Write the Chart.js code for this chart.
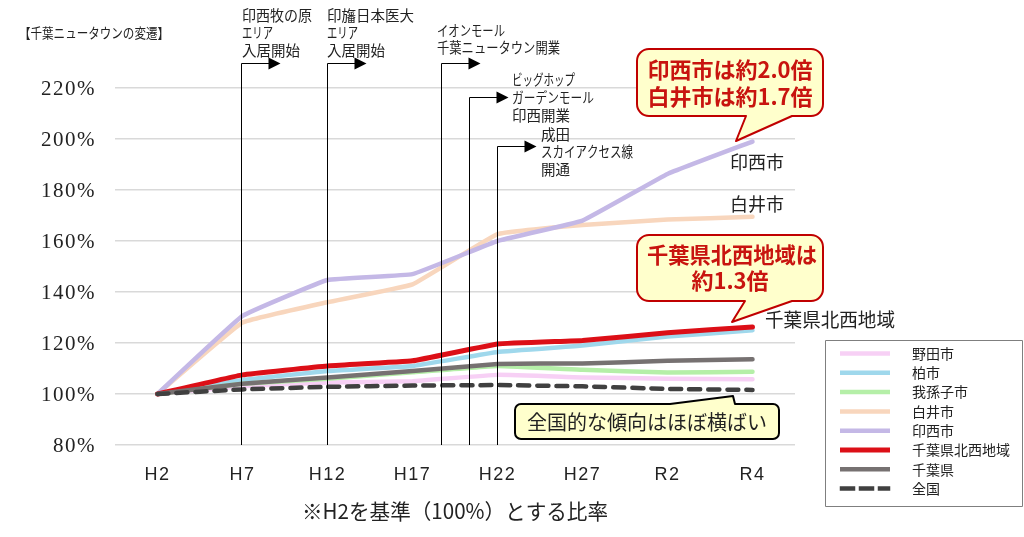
<!DOCTYPE html>
<html>
<head>
<meta charset="utf-8">
<style>
  body { margin: 0; background: #fff; }
  canvas { display: block; }
</style>
<script src="https://cdn.jsdelivr.net/npm/chart.js@4"></script>
</head>
<body>
<canvas id="chart" width="1024" height="537"></canvas>
<script>
// Data
const categories = ['H2', 'H7', 'H12', 'H17', 'H22', 'H27', 'R2', 'R4'];
const noda = [100, 103, 104.5, 105, 107.5, 106.5, 106, 105.8];
const kashiwa = [100, 105.5, 109, 111, 116.5, 119, 122.5, 125];
const abiko = [100, 104, 106, 108.5, 111, 109.5, 108.4, 108.7];
const shiroi = [100, 128, 136, 143, 162.7, 166.3, 168.4, 169.5];
const inzai = [100, 130.6, 144.7, 147, 160, 168, 186.3, 199];
const hokusei = [100, 107.5, 111, 113, 119.6, 121, 124, 126.3];
const chibaPref = [100, 104, 106.5, 109, 111.8, 112, 113, 113.6];
const national = [100, 101.8, 102.8, 103.3, 103.5, 103, 102, 101.6];
const yTicks = [80, 100, 120, 140, 160, 180, 200, 220];

// Events: position along the category axis, and height of the arrow on the value axis
const eventPos = [0.986, 1.998, 3.34, 3.67, 4];
const eventTop = [229.8, 229.8, 229.8, 216.3, 197.3];

const SANS = '"Noto Sans CJK JP", sans-serif';
const RED = '#c8140f';

function line(label, data, color, width, dash, i) {
  return {
    label: label, data: data, borderColor: color, backgroundColor: color,
    borderWidth: width, borderDash: dash || [], tension: 0.08,
    pointRadius: 0, borderCapStyle: 'round', order: 8 - i
  };
}

function text(ctx, str, x, y, font, color, maxWidth, align) {
  ctx.font = font;
  ctx.fillStyle = color;
  ctx.textAlign = align || 'left';
  ctx.textBaseline = 'middle';
  if (maxWidth) ctx.fillText(str, x, y, maxWidth);
  else ctx.fillText(str, x, y);
}

function callout(ctx, x0, y0, x1, y1, r, tail, fill, stroke) {
  ctx.beginPath();
  ctx.moveTo(x0 + r, y0);
  if (tail.top) {
    ctx.lineTo(tail.a, y0);
    ctx.lineTo(tail.tipX, tail.tipY);
    ctx.lineTo(tail.b, y0);
  }
  ctx.arcTo(x1, y0, x1, y1, r);
  ctx.arcTo(x1, y1, x0, y1, r);
  if (!tail.top) {
    ctx.lineTo(tail.b, y1);
    ctx.lineTo(tail.tipX, tail.tipY);
    ctx.lineTo(tail.a, y1);
  }
  ctx.arcTo(x0, y1, x0, y0, r);
  ctx.arcTo(x0, y0, x1, y0, r);
  ctx.closePath();
  ctx.fillStyle = fill;
  ctx.fill();
  ctx.lineWidth = 2;
  ctx.strokeStyle = stroke;
  ctx.lineJoin = 'round';
  ctx.stroke();
}

// Tick labels in the original are widely spaced
const tickSpacing = {
  id: 'tickSpacing',
  beforeDraw(chart) { chart.ctx.letterSpacing = '1.5px'; },
  beforeDatasetsDraw(chart) { chart.ctx.letterSpacing = '0px'; }
};

// Vertical event lines with arrows, placed through the scales
const eventLines = {
  id: 'eventLines',
  afterDatasetsDraw(chart) {
    const ctx = chart.ctx, x = chart.scales.x, y = chart.scales.y;
    const step = x.getPixelForValue(1) - x.getPixelForValue(0);
    ctx.save();
    ctx.strokeStyle = '#000';
    ctx.fillStyle = '#000';
    ctx.lineWidth = 1;
    eventPos.forEach(function (p, i) {
      const px = Math.floor(x.getPixelForValue(0) + p * step) + 0.5;
      const py = Math.round(y.getPixelForValue(eventTop[i])) + 0.5;
      ctx.beginPath();
      ctx.moveTo(px, y.getPixelForValue(80));
      ctx.lineTo(px, py);
      ctx.lineTo(px + 28, py);
      ctx.stroke();
      ctx.beginPath();
      ctx.moveTo(px + 27, py - 6);
      ctx.lineTo(px + 39, py);
      ctx.lineTo(px + 27, py + 6);
      ctx.closePath();
      ctx.fill();
    });
    ctx.restore();
  }
};

// Texts, callouts and legend on top of everything
const overlay = {
  id: 'overlay',
  afterDraw(chart) {
    const ctx = chart.ctx;
    ctx.save();
    const f14 = '14.5px ' + SANS, f18 = '18px ' + SANS, bold = 'bold 22px ' + SANS, black = '#222';

    text(ctx, '【千葉ニュータウンの変遷】', 19, 33, '14px ' + SANS, black, 150);

    text(ctx, '印西牧の原', 242, 15, f14, black, 70);
    text(ctx, 'エリア', 242, 32, f14, black, 31);
    text(ctx, '入居開始', 242, 50, f14, black, 58);
    text(ctx, '印旛日本医大', 327, 15, f14, black, 87);
    text(ctx, 'エリア', 327, 32, f14, black, 31);
    text(ctx, '入居開始', 327, 50, f14, black, 58);
    text(ctx, 'イオンモール', 437, 30, f14, black, 68);
    text(ctx, '千葉ニュータウン開業', 437, 47, f14, black, 123);
    text(ctx, 'ビッグホップ', 512, 79, f14, black, 63);
    text(ctx, 'ガーデンモール', 512, 97, f14, black, 82);
    text(ctx, '印西開業', 512, 115, f14, black, 58);
    text(ctx, '成田', 541, 134, f14, black, 29);
    text(ctx, 'スカイアクセス線', 541, 151, f14, black, 92);
    text(ctx, '開通', 541, 169, f14, black, 29);

    text(ctx, '印西市', 730, 162, f18, black, 54);
    text(ctx, '白井市', 730, 204, f18, black, 54);
    text(ctx, '千葉県北西地域', 765, 320, '19px ' + SANS, black, 130);

    callout(ctx, 637, 49, 823, 116, 12, { a: 746, b: 792, tipX: 736, tipY: 141 }, '#ffffcc', '#c00000');
    text(ctx, '印西市は約2.0倍', 730, 70, bold, RED, 166, 'center');
    text(ctx, '白井市は約1.7倍', 730, 97, bold, RED, 166, 'center');

    callout(ctx, 637, 235, 823, 301, 12, { a: 745, b: 792, tipX: 732, tipY: 322 }, '#ffffcc', '#c00000');
    text(ctx, '千葉県北西地域は', 732, 255, bold, RED, 170, 'center');
    text(ctx, '約1.3倍', 730, 281, bold, RED, 82, 'center');

    callout(ctx, 515, 404, 779, 439, 6, { top: true, a: 670, b: 735, tipX: 733, tipY: 396 }, '#ffffcc', '#000');
    text(ctx, '全国的な傾向はほぼ横ばい', 647, 422, '20px ' + SANS, black, 243, 'center');

    text(ctx, '※H2を基準（100%）とする比率', 455, 511, '21px ' + SANS, black, 306, 'center');

    // legend box, rows come from the datasets
    ctx.strokeStyle = '#7f7f7f';
    ctx.lineWidth = 1;
    ctx.strokeRect(825.5, 340.5, 197, 166);
    chart.data.datasets.forEach(function (ds, i) {
      const ry = 353.5 + i * 19.3;
      const dashed = ds.borderDash.length > 0;
      ctx.beginPath();
      ctx.strokeStyle = ds.borderColor;
      ctx.lineWidth = ds.borderWidth;
      ctx.setLineDash(ds.borderDash);
      ctx.lineCap = dashed ? 'square' : 'butt';
      ctx.moveTo(dashed ? 842 : 840, ry);
      ctx.lineTo(dashed ? 888 : 890, ry);
      ctx.stroke();
      ctx.setLineDash([]);
      text(ctx, ds.label, 912, ry, '14px ' + SANS, black);
    });
    ctx.restore();
  }
};

new Chart(document.getElementById('chart'), {
  type: 'line',
  data: {
    labels: categories,
    datasets: [
      line('野田市', noda, '#f7d0f5', 4.5, null, 0),
      line('柏市', kashiwa, '#9fd8ec', 4.5, null, 1),
      line('我孫子市', abiko, '#b5efa8', 4.5, null, 2),
      line('白井市', shiroi, '#f8d6bd', 4.5, null, 3),
      line('印西市', inzai, '#c4b8e6', 4.5, null, 4),
      line('千葉県北西地域', hokusei, '#dc0f17', 5, null, 5),
      line('千葉県', chibaPref, '#767171', 4.5, null, 6),
      line('全国', national, '#404040', 4.5, [11, 8], 7)
    ]
  },
  options: {
    responsive: false,
    animation: false,
    layout: { padding: { top: 88, right: 229, bottom: 0, left: 0 } },
    plugins: { legend: { display: false }, tooltip: { enabled: false } },
    scales: {
      x: {
        offset: true,
        grid: { display: false },
        border: { display: false },
        ticks: { color: '#222', font: { family: 'Liberation Sans', size: 18 }, padding: 11, maxRotation: 0 },
        afterFit(scale) { scale.height = 92; }
      },
      y: {
        min: 80,
        max: 220,
        afterBuildTicks(scale) { scale.ticks = yTicks.map(function (v) { return { value: v }; }); },
        grid: { color: '#d9d9d9', lineWidth: 1.5, drawTicks: false },
        border: { display: false },
        ticks: {
          color: '#222',
          font: { family: 'Liberation Serif', size: 21 },
          padding: 19,
          labelOffset: 1,
          callback: function (v) { return v + '%'; }
        },
        afterFit(scale) { scale.width = 115; }
      }
    }
  },
  plugins: [tickSpacing, eventLines, overlay]
});
</script>
</body>
</html>
